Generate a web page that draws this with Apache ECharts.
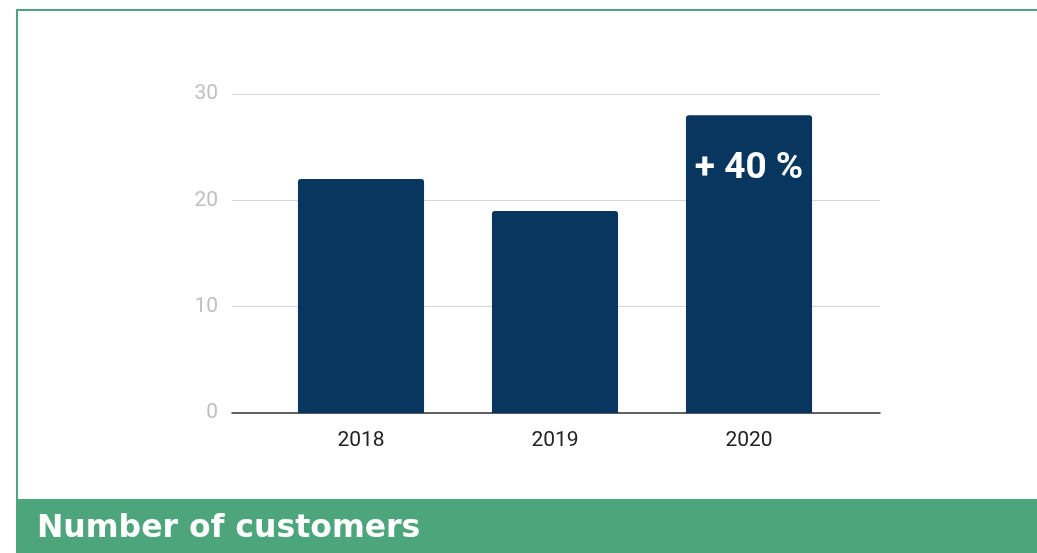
<!DOCTYPE html>
<html><head><meta charset="utf-8">
<script src="https://cdn.jsdelivr.net/npm/echarts@6/dist/echarts.min.js"></script>
<style>html,body{margin:0;padding:0;background:#fff}#c{width:1037px;height:553px}</style>
</head><body><div id="c"></div>
<script>
const categories = ['2018', '2019', '2020'];
const customers = [22, 19, 28];
const barLabels = ['', '', '+ 40 %'];
const yTicks = [0, 10, 20, 30];
const title = 'Number of customers';

const yMin = yTicks[0], yMax = yTicks[yTicks.length - 1], yStep = yTicks[1] - yTicks[0];
const chart = echarts.init(document.getElementById('c'), null, {renderer: 'canvas'});
chart.setOption({
  animation: false,
  backgroundColor: '#fff',
  grid: [
    {left: 232, right: 157, top: 94, bottom: 140},
    {left: 264, right: 191, top: 94, bottom: 140}
  ],
  xAxis: [
    {
      gridIndex: 0, type: 'category', data: categories,
      axisLine: {lineStyle: {color: '#333', width: 1.5}},
      axisTick: {show: false}, axisLabel: {show: false}
    },
    {
      gridIndex: 1, type: 'category', data: categories,
      axisLine: {show: false}, axisTick: {show: false},
      axisLabel: {color: '#222', fontSize: 21, fontFamily: 'Roboto', margin: 17}
    }
  ],
  yAxis: [
    {
      gridIndex: 0, type: 'value', min: yMin, max: yMax, interval: yStep,
      axisLine: {show: false}, axisTick: {show: false},
      axisLabel: {color: '#c0c0c0', fontSize: 21, fontFamily: 'Roboto', margin: 14},
      splitLine: {lineStyle: {color: '#d6d6d6', width: 1}}
    },
    {
      gridIndex: 1, type: 'value', min: yMin, max: yMax, interval: yStep, show: false,
      splitLine: {show: false}
    }
  ],
  series: [{
    type: 'bar', xAxisIndex: 1, yAxisIndex: 1, barWidth: '65%',
    data: customers.map((v, i) => ({
      value: v,
      label: {
        show: barLabels[i] !== '', formatter: barLabels[i], position: 'insideTop',
        distance: 35, color: '#fff', fontSize: 37, fontWeight: 'bold', fontFamily: 'Roboto'
      }
    })),
    itemStyle: {color: '#08365F', borderRadius: [3, 3, 0, 0]}
  }],
  graphic: [
    {type: 'rect', shape: {x: 16, y: 9, width: 1100, height: 2}, style: {fill: '#4DA57B'}},
    {type: 'rect', shape: {x: 16, y: 9, width: 2, height: 600}, style: {fill: '#4DA57B'}},
    {type: 'rect', shape: {x: 16, y: 499, width: 1100, height: 60}, style: {fill: '#4DA57B'}},
    {type: 'text', x: 37, y: 529, style: {text: title, fill: '#fff', font: 'bold 31.5px "DejaVu Sans"', textVerticalAlign: 'middle'}}
  ]
});
</script></body></html>
